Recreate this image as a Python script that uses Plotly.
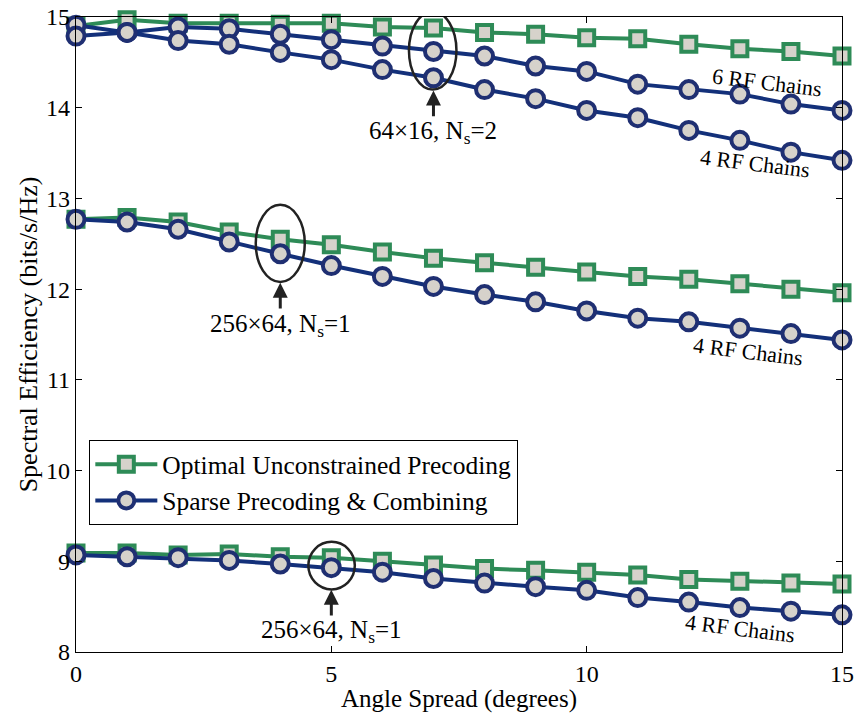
import plotly.graph_objects as go

angle = list(range(16))

# 64x16, Ns=2
opt_64x16 = [14.90, 14.97, 14.93, 14.93, 14.92, 14.93, 14.89, 14.88, 14.83, 14.81, 14.77, 14.76, 14.70, 14.65, 14.62, 14.57]
sparse_64x16_6rf = [14.91, 14.83, 14.89, 14.87, 14.81, 14.75, 14.68, 14.62, 14.57, 14.46, 14.40, 14.26, 14.20, 14.15, 14.04, 13.97]
sparse_64x16_4rf = [14.79, 14.83, 14.74, 14.70, 14.61, 14.53, 14.42, 14.33, 14.20, 14.10, 13.97, 13.89, 13.75, 13.64, 13.51, 13.42]

# 256x64, Ns=1 (middle)
opt_256x64_a = [12.77, 12.79, 12.74, 12.63, 12.55, 12.49, 12.41, 12.34, 12.29, 12.24, 12.19, 12.14, 12.11, 12.06, 12.00, 11.96]
sparse_256x64_a = [12.77, 12.74, 12.66, 12.52, 12.39, 12.26, 12.14, 12.03, 11.94, 11.86, 11.76, 11.68, 11.64, 11.57, 11.51, 11.44]

# 256x64, Ns=1 (bottom)
opt_256x64_b = [9.09, 9.09, 9.07, 9.08, 9.05, 9.04, 9.00, 8.96, 8.92, 8.90, 8.88, 8.85, 8.80, 8.78, 8.76, 8.75]
sparse_256x64_b = [9.07, 9.05, 9.04, 9.01, 8.97, 8.93, 8.88, 8.81, 8.76, 8.72, 8.68, 8.60, 8.55, 8.49, 8.45, 8.41]

x_ticks = [0, 5, 10, 15]
y_ticks = [8, 9, 10, 11, 12, 13, 14, 15]

GREEN = "#2e8b57"
NAVY = "#13307a"
FILL = "#d6d2cb"
FONT = "Liberation Serif"

fig = go.Figure()

def green(y, show):
    fig.add_trace(go.Scatter(
        x=angle, y=y, mode="lines+markers", name="Optimal Unconstrained Precoding",
        showlegend=show, legendrank=1,
        line=dict(color=GREEN, width=4),
        marker=dict(symbol="square", size=15, color=FILL, line=dict(color=GREEN, width=4)),
        cliponaxis=False))

def blue(y, show):
    fig.add_trace(go.Scatter(
        x=angle, y=y, mode="lines+markers", name="Sparse Precoding &amp; Combining",
        showlegend=show, legendrank=2,
        line=dict(color=NAVY, width=4),
        marker=dict(symbol="circle", size=17, color=FILL, line=dict(color="#1f2f72", width=4)),
        cliponaxis=False))

green(opt_64x16, True)
green(opt_256x64_a, False)
green(opt_256x64_b, False)
blue(sparse_64x16_6rf, True)
blue(sparse_64x16_4rf, False)
blue(sparse_256x64_a, False)
blue(sparse_256x64_b, False)

# ellipses
ell = [(6.52, 7.45, 14.20, 15.06), (3.52, 4.48, 12.08, 12.93), (4.55, 5.46, 8.69, 9.215)]
for x0, x1, y0, y1 in ell:
    fig.add_shape(type="circle", xref="x", yref="y", x0=x0, x1=x1, y0=y0, y1=y1,
                  line=dict(color="#222222", width=2.5))

# arrows + labels
arrows = [(7, 14.19, "64×16, N<sub>s</sub>=2", 13.73),
          (4, 12.07, "256×64, N<sub>s</sub>=1", 11.60),
          (5, 8.685, "256×64, N<sub>s</sub>=1", 8.23)]
for ax_x, tip_y, label, lab_y in arrows:
    fig.add_annotation(x=ax_x, y=tip_y, ax=ax_x, ay=tip_y - 0.30, xref="x", yref="y",
                       axref="x", ayref="y", showarrow=True, arrowhead=2, arrowsize=1,
                       arrowwidth=3, arrowcolor="#222222", text="")
    fig.add_annotation(x=ax_x, y=lab_y, xref="x", yref="y", text=label, showarrow=False,
                       font=dict(family=FONT, size=25, color="black"))

rf_labels = [(13.53, 14.28, "6 RF Chains"), (13.30, 13.39, "4 RF Chains"),
             (13.16, 11.31, "4 RF Chains"), (13.0, 8.26, "4 RF Chains")]
for lx, ly, t in rf_labels:
    fig.add_annotation(x=lx, y=ly, xref="x", yref="y", text=t, showarrow=False,
                       textangle=7, font=dict(family=FONT, size=22, color="black"))

axis_common = dict(showline=True, linecolor="black", linewidth=1.3, mirror="ticks",
                   ticks="inside", ticklen=6, tickcolor="black", showgrid=False, zeroline=False,
                   automargin=False,
                   tickfont=dict(family=FONT, size=24, color="black"))

fig.update_xaxes(range=[0, 15], tickvals=x_ticks,
                 title=dict(text="Angle Spread (degrees)", font=dict(family=FONT, size=25, color="black"), standoff=2),
                 **axis_common)
fig.update_yaxes(range=[8, 15], tickvals=y_ticks,
                 title=dict(text="Spectral Efficiency (bits/s/Hz)", font=dict(family=FONT, size=26, color="black"), standoff=0),
                 **axis_common)

fig.update_layout(
    width=856, height=713,
    margin=dict(l=76, r=14, t=17, b=61),
    paper_bgcolor="white", plot_bgcolor="white",
    font=dict(family=FONT, color="black"),
    legend=dict(x=0.017, y=0.334, xanchor="left", yanchor="top",
                bgcolor="white", bordercolor="black", borderwidth=1.3,
                font=dict(family=FONT, size=25.5, color="black"),
                tracegroupgap=0, itemwidth=62),
    showlegend=True,
)

fig.write_html("out.html", config={"displayModeBar": False},
               post_script="document.body.style.margin='0px';")
